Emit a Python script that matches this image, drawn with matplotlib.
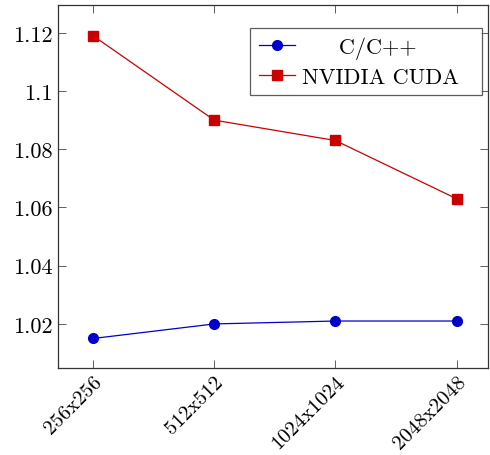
import matplotlib
matplotlib.use("Agg")
import matplotlib.pyplot as plt

# data
sizes = ["256x256", "512x512", "1024x1024", "2048x2048"]
c_cpp = [1.015, 1.020, 1.021, 1.021]
cuda = [1.119, 1.090, 1.083, 1.063]
y_ticks = [1.02, 1.04, 1.06, 1.08, 1.10, 1.12]
y_labels = ["1.02", "1.04", "1.06", "1.08", "1.1", "1.12"]

plt.rcParams['font.family'] = ['cmr10', 'DejaVu Serif']
plt.rcParams['axes.formatter.use_mathtext'] = True

fig = plt.figure(figsize=(4.9, 4.56), dpi=100)
ax = fig.add_axes([0.118, 0.191, 0.878, 0.795])

x = list(range(len(sizes)))
# extra spaces so the short label sits centred like the pgfplots legend
ax.plot(x, c_cpp, color='#0000cc', lw=0.9, marker='o', ms=7, label='     C/C++  ')
ax.plot(x, cuda, color='#cc0000', lw=0.9, marker='s', ms=7, label='NVIDIA CUDA  ')

ax.set_xlim(-0.29, 3.26)
ax.set_ylim(1.0049, 1.1294)
ax.set_xticks(x)
ax.set_xticklabels(sizes, rotation=45, ha='right', rotation_mode='anchor', fontsize=15)
ax.set_yticks(y_ticks)
ax.set_yticklabels(y_labels, fontsize=16)
ax.tick_params(direction='in', length=6, width=0.6, top=True, right=True, color='#444444')
ax.tick_params(axis='x', pad=3)

for s in ax.spines.values():
    s.set_linewidth(0.9)
    s.set_color('#333333')

leg = ax.legend(loc='upper right', bbox_to_anchor=(0.986, 0.938), fontsize=16,
                frameon=True, fancybox=False, edgecolor='#333333', borderaxespad=0,
                handlelength=1.6, borderpad=0.4, labelspacing=0.35, handletextpad=0.3)
leg.get_frame().set_linewidth(0.9)

fig.savefig("out.png", dpi=100)
